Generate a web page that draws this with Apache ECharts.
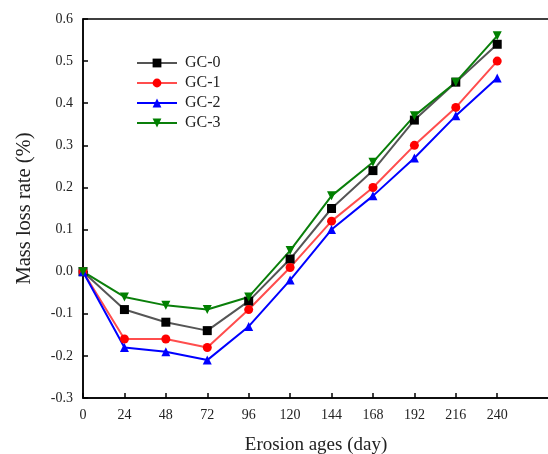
<!DOCTYPE html>
<html>
<head>
<meta charset="utf-8">
<script src="https://cdn.jsdelivr.net/npm/echarts@6/dist/echarts.min.js"></script>
<style>
  html,body{margin:0;padding:0;background:#fff;}
  #chart{width:548px;height:454px;}
</style>
</head>
<body>
<div id="chart"></div>
<script>
var days = [0, 24, 48, 72, 96, 120, 144, 168, 192, 216, 240];
var gc0 = [0, -0.09, -0.12, -0.14, -0.07, 0.03, 0.15, 0.24, 0.36, 0.45, 0.54];
var gc1 = [0, -0.16, -0.16, -0.18, -0.09, 0.01, 0.12, 0.20, 0.30, 0.39, 0.50];
var gc2 = [0, -0.18, -0.19, -0.21, -0.13, -0.02, 0.10, 0.18, 0.27, 0.37, 0.46];
var gc3 = [0, -0.06, -0.08, -0.09, -0.06, 0.05, 0.18, 0.26, 0.37, 0.45, 0.56];
var names = ['GC-0', 'GC-1', 'GC-2', 'GC-3'];

var font = '"Liberation Serif", "Times New Roman", serif';

function pairs(vals){
  return days.map(function(d, i){ return [d, vals[i]]; });
}

function makeSeries(name, vals, markColor, lineColor, symbol, rotate){
  return {
    name: name,
    type: 'line',
    data: pairs(vals),
    symbol: symbol,
    symbolSize: 9,
    symbolRotate: rotate || 0,
    itemStyle: {color: markColor},
    lineStyle: {color: lineColor, width: 2},
    emphasis: {disabled: true}
  };
}

var myChart = echarts.init(document.getElementById('chart'));
var option = {
  animation: false,
  grid: {
    left: 83, right: -1, top: 19, bottom: 56,
    outerBoundsMode: 'none',
    containLabel: false,
    show: true, borderColor: '#000', borderWidth: 1.5
  },
  legend: {
    orient: 'vertical',
    left: 131, top: 50,
    itemWidth: 40, itemHeight: 11, itemGap: 4,
    textStyle: {fontFamily: font, fontSize: 16, color: '#222', padding: [0, 0, 0, 3]},
    data: names
  },
  xAxis: {
    type: 'value',
    min: 0, max: 270, interval: 24,
    name: 'Erosion ages (day)',
    nameLocation: 'middle',
    nameGap: 38,
    nameTextStyle: {fontFamily: font, fontSize: 19, color: '#222'},
    splitLine: {show: false},
    axisLine: {onZero: false, lineStyle: {color: '#000', width: 1.5}},
    axisTick: {inside: true, length: 5, lineStyle: {color: '#000', width: 1.5}, customValues: days},
    axisLabel: {fontFamily: font, fontSize: 14, color: '#222', margin: 10, customValues: days}
  },
  yAxis: {
    type: 'value',
    min: -0.3, max: 0.6, interval: 0.1,
    name: 'Mass loss rate (%)',
    nameLocation: 'middle',
    nameGap: 48,
    nameTextStyle: {fontFamily: font, fontSize: 20.5, color: '#222'},
    splitLine: {show: false},
    axisLine: {onZero: false, lineStyle: {color: '#000', width: 1.5}},
    axisTick: {inside: true, length: 5, lineStyle: {color: '#000', width: 1.5}},
    axisLabel: {
      fontFamily: font, fontSize: 14, color: '#222', margin: 10,
      formatter: function(v){ return v.toFixed(1); }
    }
  },
  series: [
    makeSeries('GC-0', gc0, '#000', '#555', 'rect'),
    makeSeries('GC-1', gc1, '#f00', '#ff4d4d', 'circle'),
    makeSeries('GC-2', gc2, '#00f', '#0000ff', 'triangle'),
    makeSeries('GC-3', gc3, '#008000', '#0a7f0a', 'triangle', 180)
  ]
};
myChart.setOption(option);
</script>
</body>
</html>
